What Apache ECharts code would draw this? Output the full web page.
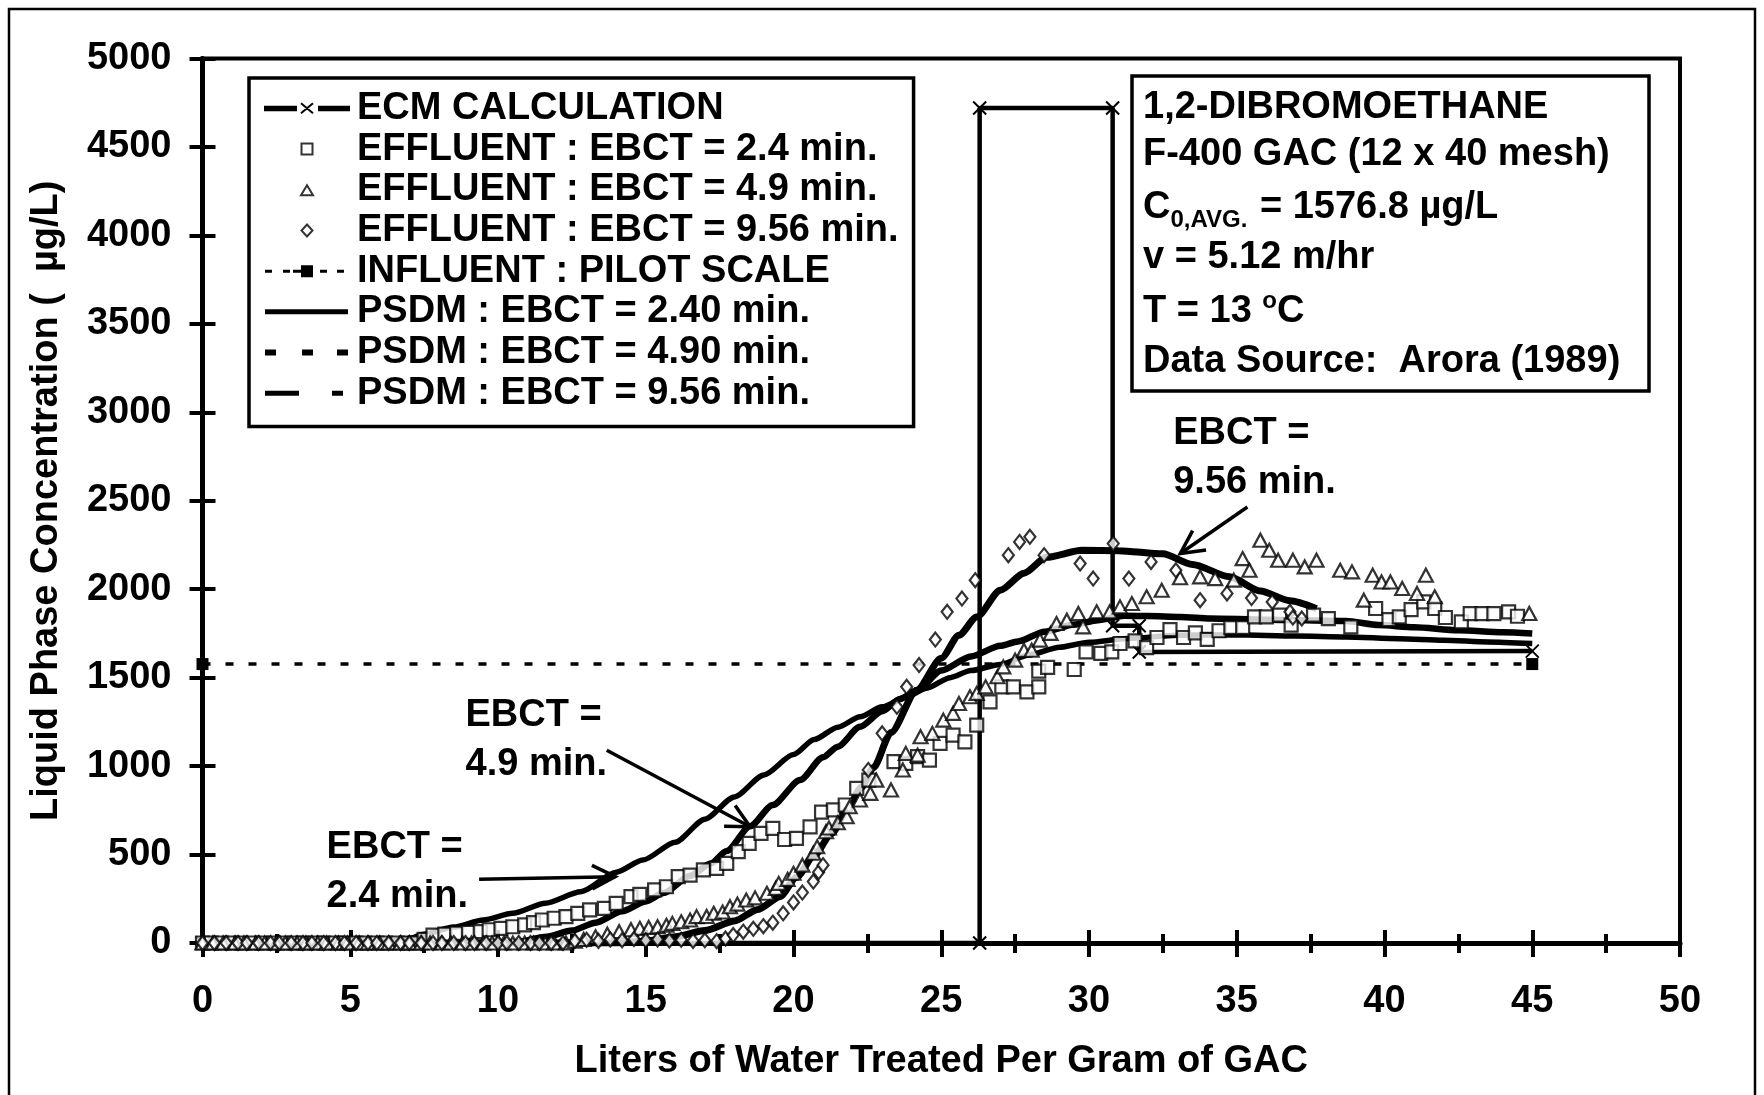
<!DOCTYPE html>
<html>
<head>
<meta charset="utf-8">
<title>1,2-Dibromoethane breakthrough</title>
<script src="https://cdn.jsdelivr.net/npm/echarts@6/dist/echarts.min.js"></script>
<style>
html,body{margin:0;padding:0;background:#fff;}
#main{width:1764px;height:1095px;}
</style>
</head>
<body>
<div id="main"></div>
<script>
var FONT = '"Liberation Sans", Arial, sans-serif';

// ECM calculation (step shape)
var ecm = [[0,0],[26.3,0],[26.3,4720],[30.8,4720],[30.8,1793],[31.7,1793],[31.7,1645],[45,1650]];
// influent, pilot scale
var influent = [[0,1576.8],[45,1576.8]];

// effluent EBCT = 2.4 min (squares)
var eff24 = [[0,0],[0.3,0],[0.65,0],[1.0,0],[1.3,0],[1.7,0],[2.0,0],[2.4,0],[2.7,0],[3.1,0],[3.4,0],[3.8,0],[4.1,0],[4.5,0],[4.8,0],[5.2,0],[5.5,0],[5.9,0],[6.2,0],[6.6,0],[6.9,0],[7.2,0],
  [7.5,20],[7.8,45],[8.2,50],[8.6,55],[9.0,60],[9.4,64],[9.7,75],[10.1,83],[10.5,92],[10.9,102],[11.2,115],[11.5,130],[11.9,140],[12.3,149],[12.7,168],[13.1,187],[13.6,196],[14.0,224],[14.5,262],[14.8,275],[15.3,300],[15.7,318],[16.1,375],[16.5,384],[16.95,413],[17.4,422],[17.74,450],[18.13,516],[18.5,563],[18.9,620],[19.3,648],[19.7,585],[20.1,592],[20.56,657],[20.95,740],[21.35,752],[21.75,780],[22.14,874],[22.55,921],
  [23.4,1025],[23.8,1015],[24.2,1053],[24.6,1034],[24.96,1128],[25.4,1175],[25.8,1137],[26.2,1232],[26.65,1363],[27.05,1448],[27.44,1448],[27.9,1420],[28.3,1448],[28.3,1537],[28.6,1558],[29.5,1546],[29.9,1646],[30.4,1637],[30.77,1646],[31.05,1693],[31.56,1708],[31.95,1670],[32.3,1727],[32.74,1772],[33.2,1727],[33.6,1753],[34.0,1716],[34.4,1765],[34.8,1783],[35.2,1783],[35.6,1844],[36.0,1844],[36.45,1853],[36.84,1797],[37.6,1853],[38.1,1834],[38.86,1787],[39.7,1891],[40.15,1828],[40.5,1844],[40.9,1885],[41.33,1928],[41.7,1891],[42.06,1840],[42.6,1815],[42.9,1862],[43.3,1862],[43.7,1862],[44.2,1872],[44.5,1847]];

// effluent EBCT = 4.9 min (triangles)
var eff49 = [[0,0],[0.35,0],[0.7,0],[1.1,0],[1.4,0],[1.8,0],[2.1,0],[2.5,0],[2.8,0],[3.2,0],[3.5,0],[3.9,0],[4.2,0],[4.6,0],[4.9,0],[5.3,0],[5.6,0],[6.0,0],[6.3,0],[6.7,0],[7.0,0],[7.4,0],[7.7,0],[8.1,0],[8.4,0],[8.8,0],[9.1,0],[9.5,0],[9.8,0],[10.2,0],[10.5,0],[10.9,0],[11.2,0],[11.6,0],[11.9,0],[12.3,0],[12.6,10],
  [12.9,20],[13.3,35],[13.7,50],[14.1,64],[14.5,75],[14.8,83],[15.1,88],[15.4,92],[15.7,100],[15.9,111],[16.2,120],[16.5,130],[16.72,149],[17.06,150],[17.3,168],[17.6,175],[17.85,205],[18.1,220],[18.4,243],[18.7,255],[19.1,281],[19.4,309],[19.5,337],[19.8,360],[20.0,394],[20.3,440],[20.67,507],[20.8,544],[21.1,629],[21.2,650],[21.5,680],[21.8,714],[21.9,770],[22.25,808],[22.6,846],[22.8,921],[23.3,865],[23.7,978],[23.8,1072],[24.2,1062],[24.3,1166],[24.7,1185],[25.07,1260],[25.4,1298],[25.6,1354],[25.97,1392],[26.2,1411],[26.5,1448],[26.9,1505],[27.1,1561],[27.5,1599],[27.8,1655],[28.06,1655],[28.34,1712],[28.7,1750],[28.9,1806],[29.25,1825],[29.64,1863],[29.8,1787],[30.26,1872],[30.7,1872],[31.05,1900],[31.45,1919],[31.95,1957],[32.46,1994],[33.08,2065],[33.76,2070],[34.27,2060],[34.9,2051],[35.2,2173],[35.43,2107],[35.8,2277],[36.1,2220],[36.4,2164],[36.9,2164],[37.3,2126],[37.7,2164],[38.5,2107],[38.9,2098],[39.3,1938],[39.6,2079],[39.9,2041],[40.2,2041],[40.6,2004],[41.1,1976],[41.4,2079],[41.7,1957],[44.9,1863]];

// effluent EBCT = 9.56 min (diamonds)
var eff956 = [[0,0],[0.4,0],[0.8,0],[1.2,0],[1.5,0],[1.9,0],[2.3,0],[2.6,0],[3.0,0],[3.4,0],[3.7,0],[4.1,0],[4.5,0],[4.8,0],[5.2,0],[5.6,0],[5.9,0],[6.3,0],[6.7,0],[7.0,0],[7.4,0],[7.8,0],[8.1,0],[8.5,0],[8.9,0],[9.2,0],[9.6,0],[10.0,0],[10.3,0],[10.7,0],[11.1,0],[11.4,0],[11.8,0],[12.2,0],
  [12.6,12],[13.0,18],[13.4,12],[13.8,20],[14.2,15],[14.6,22],[15.0,15],[15.4,20],[15.8,14],[16.2,18],[16.6,12],[17.0,15],[17.4,10],[17.7,25],[17.96,45],[18.3,64],[18.64,80],[18.98,95],[19.3,115],[19.65,168],[20.0,229],[20.3,285],[20.67,347],[20.85,400],[21.0,440],
  [22.53,978],[23.0,1185],[23.5,1335],[23.83,1448],[24.25,1571],[24.8,1715],[25.2,1872],[25.7,1947],[26.15,2051],[27.27,2192],[27.65,2267],[28.0,2296],[28.48,2192],[29.7,2145],[30.14,2060],[30.82,2258],[31.35,2060],[32.1,2154],[32.94,2107],[33.76,1938],[34.67,1976],[35.5,1950],[36.2,1928],[36.8,1872],[36.9,1840],[37.2,1834]];

// PSDM model curves
var psdm240 = [[0,0],[6,0],[7,25],[7.5,50],[8.5,90],[9.5,130],[10.5,168],[11.6,225],[12.8,290],[14,400],[14.9,469],[16,570],[17,700],[18,826],[19,950],[20,1065],[20.7,1150],[21.5,1220],[22.25,1279],[23,1335],[23.83,1392],[24.5,1440],[25.3,1500],[26,1540],[27,1575],[28,1630],[29,1672],[30,1700],[31.3,1721],[33,1740],[35,1742],[37,1735],[38.7,1730],[40.5,1720],[42,1712],[43.5,1702],[45,1693]];
var psdm490 = [[0,0],[10.5,0],[11.65,36],[12.5,70],[13.3,115],[14.2,180],[15,235],[15.6,282],[16.5,380],[17.2,450],[17.74,520],[18.53,660],[19.3,780],[20.22,921],[21,1050],[21.5,1110],[22.25,1222],[23,1310],[23.6,1380],[24.2,1430],[25,1540],[26,1620],[27,1680],[27.6,1705],[28.5,1760],[29.5,1800],[30.3,1825],[31.2,1850],[32,1848],[33.1,1843],[34.1,1835],[36,1828],[38.7,1820],[39.8,1797],[41,1785],[42.5,1768],[44,1757],[45,1750]];
var psdm956 = [[0,0],[14,0],[15,10],[16,35],[17,70],[18,125],[18.8,190],[19.54,262],[20.1,370],[20.67,488],[21.3,620],[21.8,752],[22.3,880],[22.7,990],[23.3,1190],[24.17,1429],[25,1610],[25.6,1740],[26.2,1843],[27,1994],[27.8,2090],[28.56,2180],[29.76,2220],[31,2218],[32.5,2200],[33.5,2140],[34.76,2070],[35.8,1990],[36.8,1935],[37.7,1890]];

var legendNames = ['ECM CALCULATION','EFFLUENT : EBCT = 2.4 min.','EFFLUENT : EBCT = 4.9 min.','EFFLUENT : EBCT = 9.56 min.','INFLUENT : PILOT SCALE','PSDM : EBCT = 2.40 min.','PSDM : EBCT = 4.90 min.','PSDM : EBCT = 9.56 min.'];

var infoLines = ['1,2-DIBROMOETHANE','F-400 GAC (12 x 40 mesh)','C|0,AVG.| = 1576.8 µg/L','v = 5.12 m/hr','T = 13 |o|C','Data Source:  Arora (1989)'];

// annotation labels and arrows (data coordinates)
var notes = [
  {lines:['EBCT =','2.4 min.'], at:[4.2,540], from:[9.36,360], to:[13.97,375]},
  {lines:['EBCT =','4.9 min.'], at:[8.9,1285], from:[13.68,1090], to:[18.53,657]},
  {lines:['EBCT =','9.56 min.'], at:[32.85,2878], from:[35.36,2465], to:[33.09,2202]}
];

// legend icons, drawn in a 90 x 12 box (the two leading moves pin the box size)
var BOX = 'path://M0,0M90,12';
var icons = [
  BOX + 'M3,4.5h31v3.5h-31zM57,4.5h30v3.5h-30zM39,1L51,11M51,1L39,11',
  BOX + 'M39.5,0.5h11v11h-11z',
  BOX + 'M45,1.5L51,11.5L39,11.5z',
  BOX + 'M45,0L50.5,6L45,12L39.5,6z',
  BOX + 'M3,4.5h7v3h-7zM21,4.5h7v3h-7zM31,4.5h8v3h-8zM39,0h12v12h-12zM58,4.5h7v3h-7zM75,4.5h7v3h-7z',
  BOX + 'M3,3.5h83v5h-83z',
  BOX + 'M3,3h11v6h-11zM40,3h11v6h-11zM75,3h11v6h-11z',
  BOX + 'M3,3.5h34v5h-34zM70,3.5h11v5h-11z'
];

var chart = echarts.init(document.getElementById('main'));
var txt = {fontFamily: FONT, fontWeight: 'bold', color: '#000'};
var cross = 'path://M0,0L10,10M10,0L0,10';
function plain(v) { return String(v); }

var option = {
  animation: false,
  backgroundColor: '#fff',
  grid: {left: 202.5, right: 84, top: 58.5, bottom: 152, show: true, borderColor: '#000', borderWidth: 4},
  legend: {
    orient: 'vertical', left: 249, top: 78,
    padding: [10, 15, 13, 12],
    itemWidth: 90, itemHeight: 12, itemGap: 0, itemTextGap: 6,
    borderColor: '#000', borderWidth: 3.5, selectedMode: false,
    textStyle: {fontFamily: FONT, fontWeight: 'bold', fontSize: 38, color: '#000', lineHeight: 40.7},
    data: legendNames.map(function (n, i) {
      var item = {name: n, icon: icons[i]};
      if (i === 0) item.itemStyle = {color: '#000', borderColor: '#000', borderWidth: 2};
      if (i >= 4) item.itemStyle = {color: '#000', borderWidth: 0};
      return item;
    })
  },
  xAxis: [{
    type: 'value', min: 0, max: 50, interval: 5,
    axisLine: {onZero: false, lineStyle: {color: '#000', width: 5}},
    axisTick: {length: 14, lineStyle: {color: '#000', width: 4}},
    minorTick: {show: true, splitNumber: 2, length: 10, lineStyle: {color: '#000', width: 4}},
    axisLabel: Object.assign({margin: 40, fontSize: 38, formatter: plain}, txt),
    splitLine: {show: false},
    name: 'Liters of Water Treated Per Gram of GAC', nameLocation: 'middle', nameGap: 100,
    nameTextStyle: Object.assign({fontSize: 38}, txt)
  }, {
    type: 'value', min: 0, max: 50, interval: 5, position: 'bottom',
    axisLine: {show: false},
    axisTick: {inside: true, length: 13, lineStyle: {color: '#000', width: 4}},
    minorTick: {show: true, splitNumber: 2, length: 9, lineStyle: {color: '#000', width: 4}},
    axisLabel: {show: false}, splitLine: {show: false}
  }],
  yAxis: [{
    type: 'value', min: 0, max: 5000, interval: 500,
    axisLine: {onZero: false, lineStyle: {color: '#000', width: 5}},
    axisTick: {length: 13, lineStyle: {color: '#000', width: 4}},
    axisLabel: Object.assign({margin: 31, fontSize: 38, formatter: plain}, txt),
    splitLine: {show: false},
    name: 'Liquid Phase Concentration (  µg/L)', nameLocation: 'middle', nameGap: 137,
    nameTextStyle: Object.assign({fontSize: 38}, txt)
  }, {
    type: 'value', min: 0, max: 5000, interval: 500, position: 'left',
    axisLine: {show: false},
    axisTick: {inside: true, length: 13, lineStyle: {color: '#000', width: 4}},
    axisLabel: {show: false}, splitLine: {show: false}
  }],
  series: [
    {name: legendNames[5], type: 'line', data: psdm240, showSymbol: false, symbol: 'none', smooth: 0.25, smoothMonotone: 'x',
     lineStyle: {color: '#000', width: 5.5}, itemStyle: {color: '#000'}, z: 2},
    {name: legendNames[6], type: 'line', data: psdm490, showSymbol: false, symbol: 'none', smooth: 0.25, smoothMonotone: 'x',
     lineStyle: {color: '#000', width: 6.5}, itemStyle: {color: '#000'}, z: 2},
    {name: legendNames[7], type: 'line', data: psdm956, showSymbol: false, symbol: 'none', smooth: 0.25, smoothMonotone: 'x',
     lineStyle: {color: '#000', width: 7}, itemStyle: {color: '#000'}, z: 2},
    {name: legendNames[4], type: 'line', data: influent, symbol: 'rect', symbolSize: 12,
     lineStyle: {color: '#000', width: 3.5, type: [8, 15]}, itemStyle: {color: '#000'}, z: 2},
    {name: legendNames[0], type: 'line', data: ecm, symbol: cross, symbolSize: 13, symbolKeepAspect: true,
     lineStyle: {color: '#000', width: 4.5}, itemStyle: {color: '#000', borderColor: '#000', borderWidth: 2}, z: 3},
    {name: legendNames[1], type: 'scatter', data: eff24, symbol: 'rect', symbolSize: 13,
     itemStyle: {color: '#fff', borderColor: '#000', borderWidth: 2.2}, z: 4},
    {name: legendNames[2], type: 'scatter', data: eff49, symbol: 'triangle', symbolSize: [14, 13],
     itemStyle: {color: '#fff', borderColor: '#000', borderWidth: 2.2}, z: 4},
    {name: legendNames[3], type: 'scatter', data: eff956, symbol: 'diamond', symbolSize: [11, 14],
     itemStyle: {color: '#fff', borderColor: '#000', borderWidth: 2.2}, z: 4}
  ]
};
chart.setOption(option);

// text measuring for the info box
var ctx = document.createElement('canvas').getContext('2d');
function tw(s, size) { ctx.font = 'bold ' + size + 'px ' + FONT; return ctx.measureText(s).width; }
function textEl(s, x, y, size, align) {
  return {type: 'text', x: x, y: y, silent: true, z: 50,
    style: {text: s, font: 'bold ' + size + 'px ' + FONT, fill: '#000',
      textAlign: align || 'left', textVerticalAlign: 'middle', align: align || 'left', verticalAlign: 'middle'}};
}
function px(p) { return chart.convertToPixel({xAxisIndex: 0, yAxisIndex: 0}, p); }

var els = [];
// outer frame
els.push({type: 'rect', silent: true, z: 60, shape: {x: 9, y: 9, width: 1746, height: 1200},
  style: {fill: 'none', stroke: '#000', lineWidth: 2.5}});
// info box
els.push({type: 'rect', silent: true, z: 40, shape: {x: 1132, y: 76, width: 517, height: 315},
  style: {fill: '#fff', stroke: '#000', lineWidth: 3.5}});
var infoY = [108, 155, 208, 258, 312, 362];
infoLines.forEach(function (line, i) {
  var parts = line.split('|');
  if (parts.length === 1) { els.push(textEl(line, 1143, infoY[i], 38)); return; }
  var x = 1143;
  parts.forEach(function (p, k) {
    var small = k === 1;
    var size = small ? 24 : 38;
    var dy = small ? (i === 2 ? 12 : -11) : 0;
    els.push(textEl(p, x, infoY[i] + dy, size));
    x += tw(p, size) + (small && i === 2 ? 2 : 0);
  });
});
// annotations
notes.forEach(function (n) {
  var p = px(n.at);
  els.push(textEl(n.lines[0], p[0], p[1], 38));
  els.push(textEl(n.lines[1], p[0], p[1] + 49, 38));
  var a = px(n.from), b = px(n.to);
  var ang = Math.atan2(a[1] - b[1], a[0] - b[0]);
  var L = 26, s = 0.47;
  var h1 = [b[0] + L * Math.cos(ang + s), b[1] + L * Math.sin(ang + s)];
  var h2 = [b[0] + L * Math.cos(ang - s), b[1] + L * Math.sin(ang - s)];
  els.push({type: 'line', silent: true, z: 45, shape: {x1: a[0], y1: a[1], x2: b[0], y2: b[1]}, style: {stroke: '#000', lineWidth: 3.5}});
  els.push({type: 'polyline', silent: true, z: 45, shape: {points: [h1, b, h2]}, style: {stroke: '#000', lineWidth: 3.5, fill: 'none'}});
});
chart.setOption({graphic: {elements: els}});
</script>
</body>
</html>
